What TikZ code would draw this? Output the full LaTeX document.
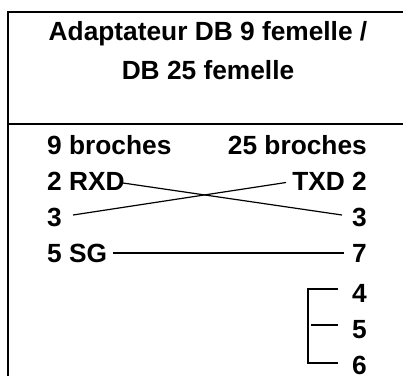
\documentclass[tikz,border=0pt]{standalone}
\usepackage{fontspec}
\setmainfont{Liberation Sans}
\tikzset{
  lbl/.style={inner sep=0pt,font=\fontsize{26.3}{30}\selectfont\bfseries,text=black},
  lft/.style={lbl,anchor=base west},
  rgt/.style={lbl,anchor=base east},
  ctr/.style={lbl,anchor=base},
  frame/.style={line width=1.8pt,black},
  wire/.style={line width=1.2pt,black}
}
\begin{document}
\begin{tikzpicture}[x=1pt,y=-1pt]
\useasboundingbox (0,0) rectangle (403,376);
\draw[frame] (403,12) -- (8,12) -- (8,376);
\draw[frame] (8,124) -- (403,124);
\node[ctr] (t1) at (208,40) {Adaptateur DB 9 femelle /};
\node[ctr] (t2) at (208,79) {DB 25 femelle};
\node[lft] (h9) at (47,154) {9 broches};
\node[rgt] (h25) at (367,154) {25 broches};
\node[lft] (rxd) at (47,190) {2 RXD};
\node[rgt] (txd) at (367,190) {TXD 2};
\node[lft] (l3) at (47,226) {3};
\node[rgt] (r3) at (367,226) {3};
\node[lft] (sg) at (47,262) {5 SG};
\node[rgt] (r7) at (367,262) {7};
\node[rgt] (r4) at (367,302) {4};
\node[rgt] (r5) at (367,338) {5};
\node[rgt] (r6) at (367,374) {6};
\coordinate (a1) at (123,183);
\coordinate (a2) at (342,215);
\coordinate (b1) at (286,182.5);
\coordinate (b2) at (73,215);
\coordinate (c1) at (113,253);
\coordinate (c2) at (344,253);
\coordinate (d4) at (338,289);
\coordinate (d5) at (338,325);
\coordinate (d5s) at (311,325);
\coordinate (d6) at (338,363);
\coordinate (d4c) at (308,289);
\coordinate (d6c) at (308,363);
\draw[wire] (a1) -- (a2);
\draw[wire] (b1) -- (b2);
\draw[wire] (c1) -- (c2);
\draw[wire] (d4) -- (d4c) -- (d6c) -- (d6);
\draw[wire] (d5s) -- (d5);
\end{tikzpicture}
\end{document}
